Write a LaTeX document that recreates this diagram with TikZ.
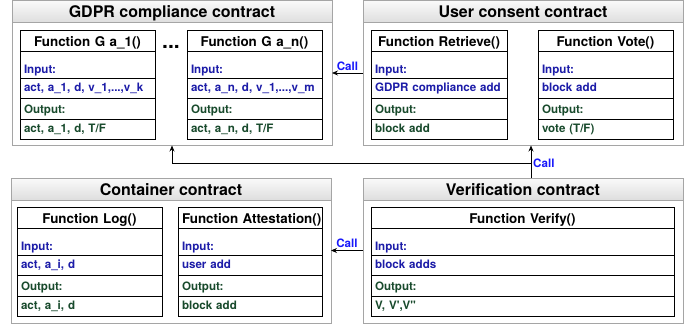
\documentclass[tikz,border=0pt]{standalone}
\usepackage{fontspec}
\setmainfont{TeX Gyre Heros}
\usetikzlibrary{positioning,arrows.meta}

\definecolor{inblue}{RGB}{28,28,168}
\definecolor{outgreen}{RGB}{24,74,44}
\definecolor{callblue}{RGB}{24,24,250}
\definecolor{framegray}{RGB}{165,165,165}

\newcommand{\headfont}{\bfseries\fontsize{16}{18}\selectfont}
\newcommand{\titlefont}{\bfseries\fontsize{13.4}{16}\selectfont}
\newcommand{\rowfont}{\bfseries\fontsize{11.6}{14}\selectfont}

\tikzset{
  container/.style={draw=framegray, line width=1pt, fill=white, outer sep=0pt,
    minimum width=320, minimum height=145, anchor=north west},
  header/.style={draw=framegray, line width=1pt, top color=gray!4, bottom color=gray!26,
    minimum width=320, inner sep=0pt, outer sep=0pt, text height=17pt, text depth=5pt,
    font=\headfont, anchor=north},
  fnrow/.style={draw, line width=0.8pt, inner xsep=4pt, inner ysep=0pt, outer sep=0pt, align=left},
  fntitle/.style={fnrow, align=center, text height=16.5pt, text depth=4.5pt, font=\titlefont},
  inlabel/.style={fnrow, text=inblue, text height=22.5pt, text depth=4.5pt, font=\rowfont},
  invalue/.style={fnrow, text=inblue, text height=13pt, text depth=7pt, font=\rowfont},
  outlabel/.style={fnrow, text=outgreen, text height=15.5pt, text depth=5.5pt, font=\rowfont},
  outvalue/.style={fnrow, text=outgreen, text height=13pt, text depth=7pt, font=\rowfont},
  callarrow/.style={-{Stealth[length=6pt, width=5pt]}, line width=0.8pt},
  calltext/.style={text=callblue, font=\rowfont, inner sep=2pt},
}

% function box: id, north west corner, width, title, input, output
\newcommand{\fnbox}[6]{%
  \pgfmathsetmacro{\fntw}{#3-8}
  \node[fntitle, text width=\fntw pt, anchor=north west] (#1t) at (#2) {\mbox{#4}};
  \node[inlabel, text width=\fntw pt, below=0pt of #1t] (#1il) {Input:};
  \node[invalue, text width=\fntw pt, below=0pt of #1il] (#1iv) {\mbox{#5}};
  \node[outlabel, text width=\fntw pt, below=0pt of #1iv] (#1ol) {Output:};
  \node[outvalue, text width=\fntw pt, below=0pt of #1ol] (#1ov) {\mbox{#6}};
}

\begin{document}
\begin{tikzpicture}[x=1pt, y=-1pt]
  \useasboundingbox (0,0) rectangle (699,327);

  % contracts
  \node[container] (gdpr) at (12,0.5) {};
  \node[header] (gdprhead) at (gdpr.north) {GDPR compliance contract};
  \node[container] (uc) at (363,0.5) {};
  \node[header] (uchead) at (uc.north) {User consent contract};
  \node[container] (cont) at (11,178) {};
  \node[header] (conthead) at (cont.north) {Container contract};
  \node[container] (ver) at (363,178) {};
  \node[header] (verhead) at (ver.north) {Verification contract};

  % functions
  \fnbox{ga}{20,30}{135}{Function G a\_1()}{act, a\_1, d, v\_1,...,v\_k}{act, a\_1, d, T/F}
  \fnbox{gn}{187,30}{135}{Function G a\_n()}{act, a\_n, d, v\_1,...,v\_m}{act, a\_n, d, T/F}
  \node[font=\bfseries\fontsize{21}{21}\selectfont, inner sep=0pt] (dots) at (171,47) {...};
  \fnbox{ret}{371,30}{136}{Function Retrieve()}{GDPR compliance add}{block add}
  \fnbox{vote}{538,30}{135}{Function Vote()}{block add}{vote (T/F)}
  \fnbox{log}{17,207}{145}{Function Log()}{act, a\_i, d}{act, a\_i, d}
  \fnbox{att}{178,207}{144}{Function Attestation()}{user add}{block add}
  \fnbox{vf}{371,207}{303}{Function Verify()}{block adds}{V, V\textquotesingle,V\textquotedbl}

  % calls
  \draw[callarrow] (uc.west) -- (gdpr.east) node[midway, above, calltext] {Call};
  \draw[callarrow] (ver.west) -- (cont.east) node[midway, above, calltext] {Call};
  \coordinate (split) at (531,163);
  \coordinate (bend) at (172,163);
  \draw[callarrow] (split |- ver.north) -- (split |- uc.south);
  \draw[callarrow] (split) -- (bend) -- (bend |- gdpr.south);
  \node[calltext, right] (calllab) at (split) {Call};
\end{tikzpicture}
\end{document}
